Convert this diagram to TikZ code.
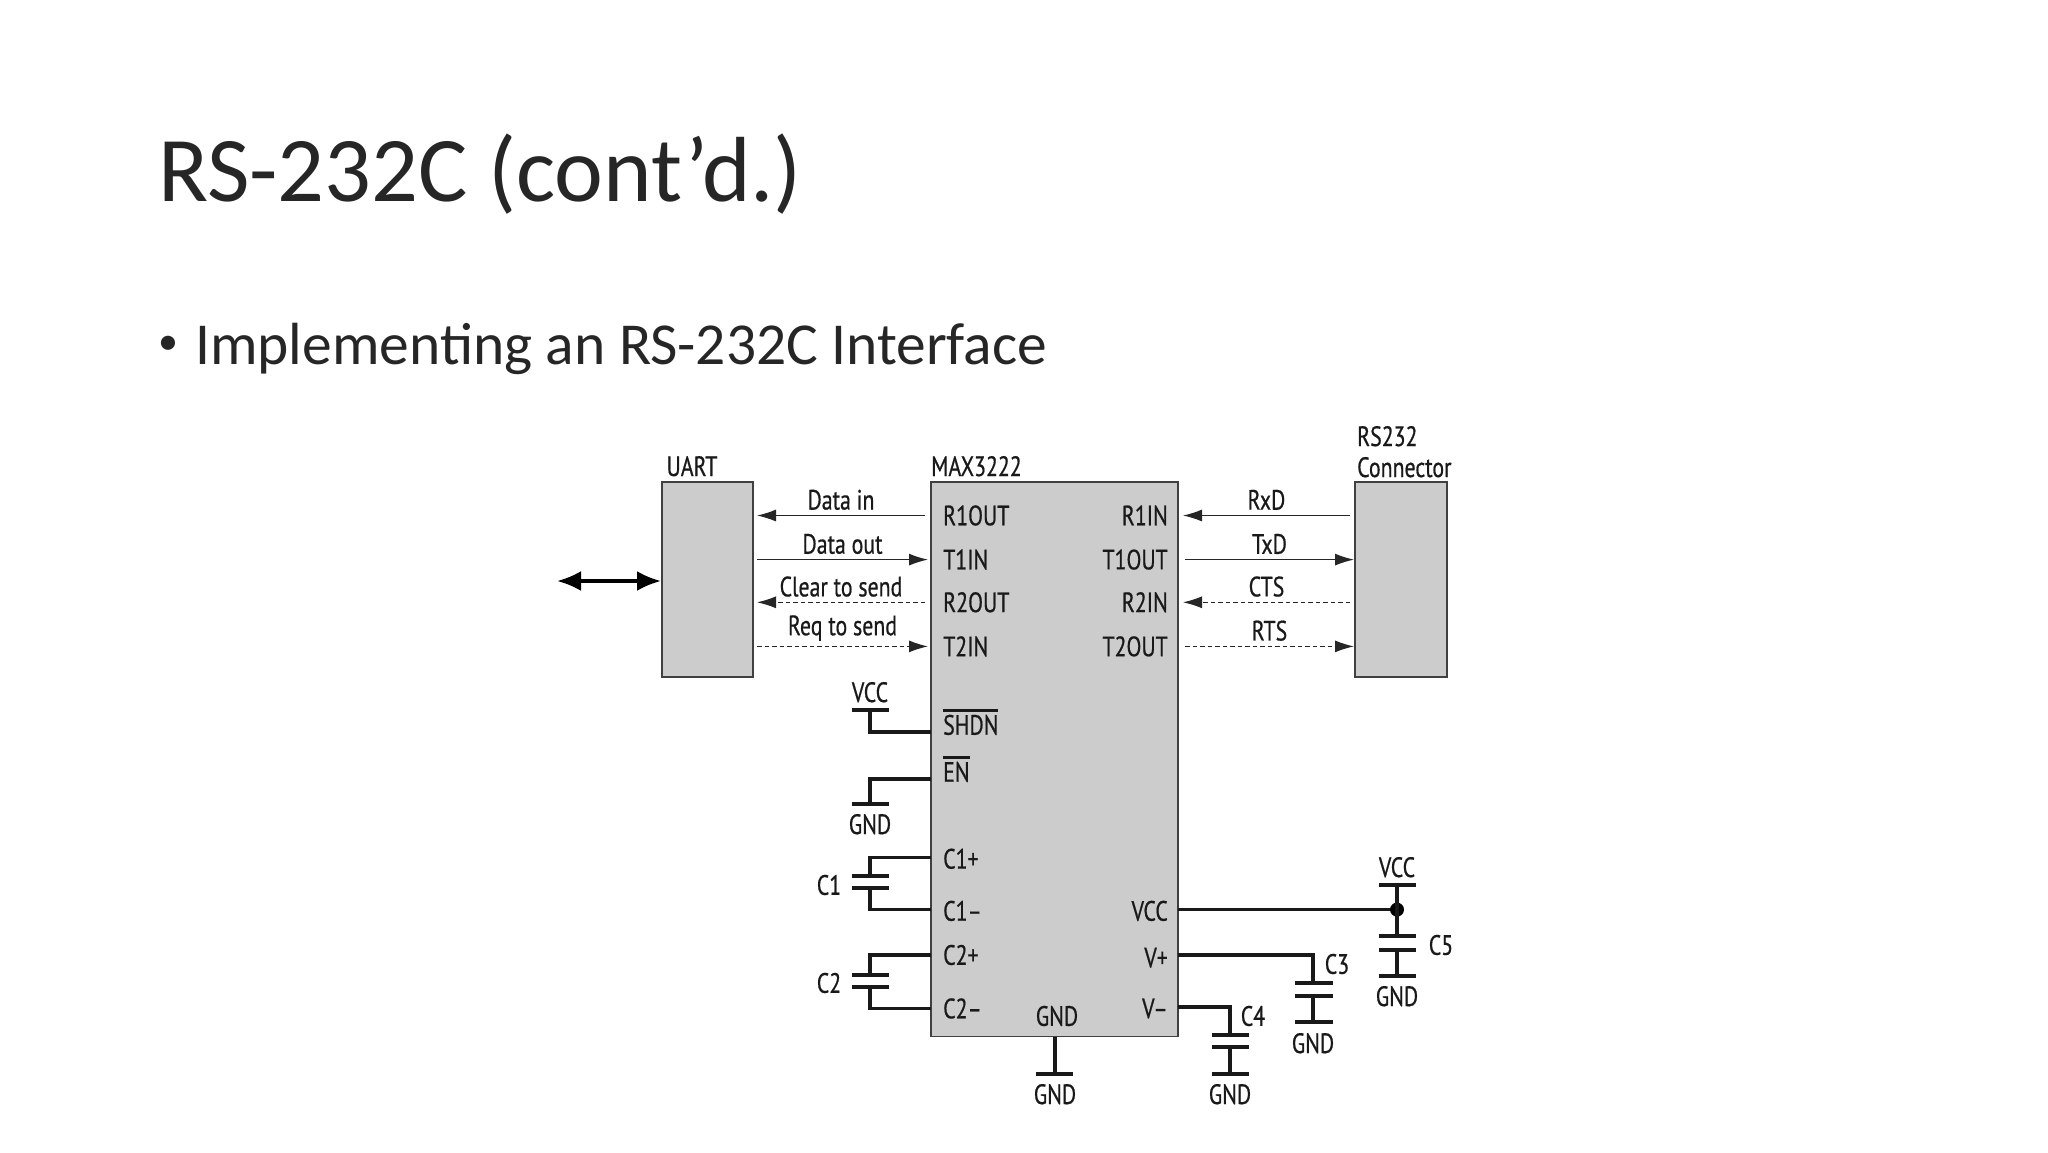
\documentclass[tikz,border=0pt]{standalone}
\usepackage{fontspec}
\setmainfont{Carlito}
\newfontfamily\dg{PT Sans}[FakeStretch=0.78,FakeBold=0.6]
\usetikzlibrary{arrows.meta}
\newcommand{\myovl}[1]{\vbox{\hrule height 2.8pt\kern3pt\hbox{#1}}}
\begin{document}
\begin{tikzpicture}[x=1pt,y=-1pt,
  lbl/.style={font=\dg\fontsize{28}{30}\selectfont,text=black!90,inner sep=0pt},
  box/.style={draw=black!75,line width=1.5pt,fill=black!20},
  sig/.style={line width=1.2pt,draw=black!85,-{Latex[length=19pt,width=12pt]}},
  dsig/.style={sig,dash pattern=on 4.5pt off 3pt},
  wire/.style={line width=3.5pt,draw=black!90},
  bar/.style={line width=4pt,draw=black!90}]
\path[use as bounding box] (0,0) rectangle (2048,1152);
\node[anchor=west,inner sep=0pt,font=\fontsize{92.5}{100}\selectfont,text=black!85] (title) at (158,174) {RS-232C (cont’d.)};
\node[inner sep=0pt,font=\fontsize{40}{44}\selectfont,text=black!85] (bdot) at (168,345) {•};
\node[anchor=west,inner sep=0pt,font=\fontsize{59.5}{64}\selectfont,text=black!85] (bul) at (195,349) {Implementing an RS-232C Interface};
% boxes
\node[box,minimum width=91pt,minimum height=195pt,inner sep=0pt] (uart) at (707.5,579.6) {};
\node[box,minimum width=247pt,minimum height=554.4pt,inner sep=0pt] (max) at (1054.5,759.3) {};
\node[box,minimum width=92pt,minimum height=195pt,inner sep=0pt] (rs) at (1401,579.6) {};
\node[lbl,anchor=base] (uartl) at (692,476) {UART};
\node[lbl,anchor=base west] (maxl) at (931,476) {MAX3222};
\node[lbl,anchor=base west] (rsl) at (1357,446) {RS232};
\node[lbl,anchor=base west] (rsl2) at (1357,477) {Connector};
% double arrow
\coordinate (da1) at (557,581); \coordinate (da2) at (661,581);
\draw[line width=3.5pt,{Latex[length=24pt,width=20pt]}-{Latex[length=24pt,width=20pt]}] (da1) -- (da2);
% left pins
\foreach \t/\y/\n in {R1OUT/515.5/a,T1IN/559.6/b,R2OUT/602.3/c,T2IN/646.4/d,C1+/858.8/e,C1–/910.9/f,C2+/955/g,C2–/1008.5/h}
  \node[lbl,anchor=west] (p\n) at (943,\y) {\t};
\node[lbl,anchor=west] (pshdn) at (943,722) {\myovl{SHDN}};
\node[lbl,anchor=west] (pen) at (943,769) {\myovl{EN}};
\foreach \t/\y/\n in {R1IN/515.5/a,T1OUT/559.6/b,R2IN/602.3/c,T2OUT/646.4/d,VCC/910.9/e,V+/957.7/f,V–/1008.5/g}
  \node[lbl,anchor=east] (q\n) at (1168,\y) {\t};
\node[lbl] (gndin) at (1057,1016) {GND};
% signal arrows
\coordinate (l1) at (925,515.5); \coordinate (u1) at (757,515.5);
\coordinate (l2) at (757,559.6); \coordinate (u2) at (928,559.6);
\coordinate (l3) at (925,602.3); \coordinate (u3) at (757,602.3);
\coordinate (l4) at (757,646.4); \coordinate (u4) at (928,646.4);
\draw[sig] (l1) -- node[lbl,above=5pt] {Data in} (u1);
\draw[sig] (l2) -- node[lbl,above=5pt] {Data out} (u2);
\draw[dsig] (l3) -- node[lbl,above=5pt] {Clear to send} (u3);
\draw[dsig] (l4) -- node[lbl,above=5pt] {Req to send} (u4);
\coordinate (r1) at (1350,515.5); \coordinate (m1) at (1183,515.5);
\coordinate (r2) at (1185,559.6); \coordinate (m2) at (1354,559.6);
\coordinate (r3) at (1350,602.3); \coordinate (m3) at (1183,602.3);
\coordinate (r4) at (1185,646.4); \coordinate (m4) at (1354,646.4);
\draw[sig] (r1) -- node[lbl,above=5pt] {RxD} (m1);
\draw[sig] (r2) -- node[lbl,above=5pt] {TxD} (m2);
\draw[dsig] (r3) -- node[lbl,above=5pt] {CTS} (m3);
\draw[dsig] (r4) -- node[lbl,above=5pt] {RTS} (m4);
% SHDN to VCC
\draw[wire] (931,732) -| (870,710);
\draw[bar] (852,710) -- (889,710);
\node[lbl,anchor=base] (vcc1) at (870,702) {VCC};
% EN to GND
\draw[wire] (931,779) -| (870,804);
\draw[bar] (852,804) -- (889,804);
\node[lbl,anchor=base] (gnd1) at (870,834) {GND};
% C1
\draw[wire] (931,857.5) -| (870,876.2);
\draw[wire] (931,909.6) -| (870,888.2);
\draw[bar] (852,876.2) -- (889,876.2); \draw[bar] (852,888.2) -- (889,888.2);
\node[lbl] (c1) at (829,885) {C1};
% C2
\draw[wire] (931,955) -| (870,975);
\draw[wire] (931,1008.5) -| (870,987);
\draw[bar] (852,975) -- (889,975); \draw[bar] (852,987) -- (889,987);
\node[lbl] (c2) at (829,983) {C2};
% GND pin
\draw[wire] (1055,1036.5) -- (1055,1074);
\draw[bar] (1036,1074) -- (1073,1074);
\node[lbl,anchor=base] (gnd2) at (1055,1104) {GND};
% VCC / C5
\draw[wire] (1178,909.6) -- (1397,909.6);
\fill (1397,909.6) circle (7pt);
\draw[bar] (1379,885) -- (1416,885);
\draw[wire] (1397,885) -- (1397,936.3);
\draw[bar] (1379,936.3) -- (1416,936.3); \draw[bar] (1379,949.7) -- (1416,949.7);
\draw[wire] (1397,949.7) -- (1397,976.4);
\draw[bar] (1379,976.4) -- (1416,976.4);
\node[lbl,anchor=base] (vcc2) at (1397,877) {VCC};
\node[lbl] (c5) at (1441,945) {C5};
\node[lbl,anchor=base] (gnd5) at (1397,1006) {GND};
% C3
\draw[wire] (1178,955) -| (1313,983.1);
\draw[bar] (1295,983.1) -- (1333,983.1); \draw[bar] (1295,996.4) -- (1333,996.4);
\draw[wire] (1313,996.4) -- (1313,1021.8);
\draw[bar] (1295,1021.8) -- (1333,1021.8);
\node[lbl] (c3) at (1337,964) {C3};
\node[lbl,anchor=base] (gnd3) at (1313,1053) {GND};
% C4
\draw[wire] (1178,1007.1) -| (1230,1035.2);
\draw[bar] (1212,1035.2) -- (1249,1035.2); \draw[bar] (1212,1047.2) -- (1249,1047.2);
\draw[wire] (1230,1047.2) -- (1230,1074);
\draw[bar] (1212,1074) -- (1249,1074);
\node[lbl] (c4) at (1253,1016) {C4};
\node[lbl,anchor=base] (gnd4) at (1230,1104) {GND};
\end{tikzpicture}
\end{document}
